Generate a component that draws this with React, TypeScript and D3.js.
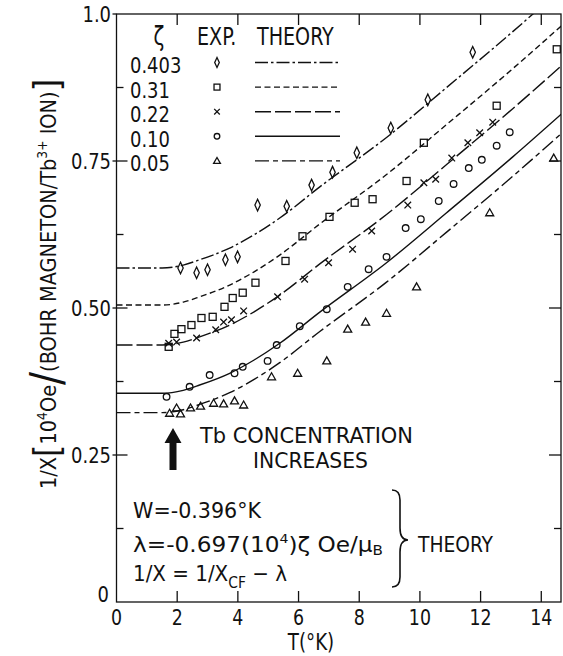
import React from 'react';
import * as d3 from 'd3';

// ---------- data ----------
const tempTicks = [0, 2, 4, 6, 8, 10, 12, 14];
const yTickValues = [0, 0.25, 0.5, 0.75, 1.0];
const yTickLabels = ['0', '0.25', '0.50', '0.75', '1.0'];
const yMinorValues = [0.125, 0.375, 0.625, 0.875];

const zetaLabels = ['0.403', '0.31', '0.22', '0.10', '0.05'];
const markerKinds = ['diamond', 'square', 'cross', 'circle', 'triangle'];
const dashPatterns = ['13,3,2.5,3', '6,3.5', '16,4', '', '14,4,5,4'];

// experimental points (T in K, 1/chi)
const exp403T = [2.11, 2.64, 3.0, 3.59, 3.99, 4.65, 5.61, 6.43, 7.12, 7.92, 9.04, 10.26, 11.74];
const exp403V = [0.568, 0.56, 0.565, 0.582, 0.587, 0.675, 0.673, 0.709, 0.731, 0.764, 0.806, 0.854, 0.935];

const exp31T = [1.72, 1.91, 2.14, 2.47, 2.8, 3.17, 3.56, 3.83, 4.16, 4.58, 5.57, 6.13, 7.02, 7.85, 8.44, 9.56, 10.13, 12.53, 14.51];
const exp31V = [0.434, 0.456, 0.464, 0.471, 0.483, 0.485, 0.502, 0.517, 0.526, 0.543, 0.58, 0.622, 0.655, 0.679, 0.685, 0.716, 0.781, 0.844, 0.94];

const exp22T = [1.72, 1.98, 2.64, 3.27, 3.53, 3.79, 4.19, 5.31, 6.2, 6.99, 7.78, 8.41, 9.6, 10.13, 10.52, 11.05, 11.58, 11.97, 12.4];
const exp22V = [0.44, 0.442, 0.449, 0.463, 0.476, 0.48, 0.495, 0.519, 0.549, 0.577, 0.6, 0.631, 0.675, 0.713, 0.719, 0.755, 0.781, 0.798, 0.816];

const exp10T = [1.65, 2.41, 3.07, 3.89, 4.16, 4.98, 5.28, 6.04, 6.93, 7.62, 8.31, 8.9, 9.53, 10.03, 10.62, 11.11, 11.61, 12.04, 12.53, 12.96];
const exp10V = [0.349, 0.366, 0.386, 0.389, 0.4, 0.41, 0.437, 0.469, 0.498, 0.536, 0.566, 0.587, 0.636, 0.651, 0.682, 0.711, 0.738, 0.752, 0.776, 0.799];

const exp05T = [1.75, 1.98, 2.11, 2.44, 2.77, 3.2, 3.53, 3.89, 4.19, 5.11, 5.97, 6.93, 7.62, 8.21, 8.9, 9.89, 12.3, 14.41];
const exp05V = [0.321, 0.33, 0.32, 0.33, 0.333, 0.338, 0.337, 0.342, 0.335, 0.383, 0.389, 0.41, 0.464, 0.476, 0.491, 0.536, 0.662, 0.755];

// theory curves
const theoryT = [0, 1.5, 2.2, 2.74, 3.73, 4.55, 5.38, 6.7, 8.9, 10.88, 13.06, 14.71];
const theory403 = [0.568, 0.568, 0.573, 0.582, 0.602, 0.625, 0.653, 0.706, 0.79, 0.875, 0.97, 1.045];
const theory31 = [0.505, 0.505, 0.51, 0.519, 0.539, 0.562, 0.59, 0.643, 0.727, 0.812, 0.907, 0.982];
const theory22 = [0.437, 0.437, 0.442, 0.451, 0.471, 0.494, 0.522, 0.575, 0.659, 0.744, 0.839, 0.914];
const theory10 = [0.355, 0.355, 0.36, 0.369, 0.389, 0.412, 0.44, 0.493, 0.577, 0.662, 0.757, 0.832];
const theory05 = [0.322, 0.322, 0.327, 0.336, 0.356, 0.379, 0.407, 0.46, 0.544, 0.629, 0.724, 0.799];

const expT = [exp403T, exp31T, exp22T, exp10T, exp05T];
const expV = [exp403V, exp31V, exp22V, exp10V, exp05V];
const theoryV = [theory403, theory31, theory22, theory10, theory05];

// ---------- layout ----------
const W = 563;
const H = 656;
const FONT = "'DejaVu Sans Condensed','Liberation Sans Narrow','DejaVu Sans',sans-serif";
const X0 = 116.5, X1 = 561, Y0 = 602, Y1 = 14;
const SX = 0.85;

const x = d3.scaleLinear().domain([0, 14.65]).range([X0, X1]);
const y = d3.scaleLinear().domain([0, 1]).range([Y0, Y1]);

function CText({ x: tx, y: ty, sx = SX, children, ...rest }: any) {
  return (
    <text transform={`translate(${tx},${ty}) scale(${sx},1)`} fill="#111" {...rest}>
      {children}
    </text>
  );
}

function Marker({ kind, cx, cy, s = 1 }: { kind: string; cx: number; cy: number; s?: number }) {
  const common = { fill: 'none', stroke: '#111', strokeWidth: 1.3 };
  if (kind === 'diamond') {
    const w = 2.7 * s, h = 5.8 * s;
    return <path d={`M${cx},${cy - h}L${cx + w},${cy}L${cx},${cy + h}L${cx - w},${cy}Z`} {...common} />;
  }
  if (kind === 'square') {
    const a = 3.5 * s;
    return <rect x={cx - a} y={cy - a} width={2 * a} height={2 * a} {...common} />;
  }
  if (kind === 'cross') {
    const a = 3.3 * s;
    return <path d={`M${cx - a},${cy - a}L${cx + a},${cy + a}M${cx + a},${cy - a}L${cx - a},${cy + a}`} {...common} />;
  }
  if (kind === 'circle') {
    return <circle cx={cx} cy={cy} r={3.3 * s} {...common} />;
  }
  const a = 4 * s;
  return <path d={`M${cx},${cy - a}L${cx + a},${cy + a * 0.75}L${cx - a},${cy + a * 0.75}Z`} {...common} />;
}

export default function App() {
  const line = d3
    .line<[number, number]>()
    .x((d) => x(d[0]))
    .y((d) => y(d[1]))
    .curve(d3.curveMonotoneX);

  const legendY0 = 62.5;
  const legendStep = 24.6;

  return (
    <svg
      width={W}
      height={H}
      viewBox={`0 0 ${W} ${H}`}
      style={{ position: 'absolute', left: 0, top: 0, background: '#fff' }}
      fontFamily={FONT}
    >
      <defs>
        <clipPath id="plotclip">
          <rect x={X0} y={Y1} width={X1 - X0} height={Y0 - Y1} />
        </clipPath>
      </defs>
      <rect x={0} y={0} width={W} height={H} fill="#fff" />

      {/* frame */}
      <rect x={X0} y={Y1} width={X1 - X0} height={Y0 - Y1} fill="none" stroke="#111" strokeWidth={1.3} />

      {/* bottom and top ticks */}
      {tempTicks.map((t) => (
        <g key={`xt${t}`}>
          {t > 0 && <line x1={x(t)} x2={x(t)} y1={Y0} y2={Y0 - 11} stroke="#111" strokeWidth={1.3} />}
          {t > 0 && <line x1={x(t)} x2={x(t)} y1={Y1} y2={Y1 + 11} stroke="#111" strokeWidth={1.3} />}
          <CText x={x(t)} y={625} sx={0.92} textAnchor="middle" fontSize={21}>
            {t}
          </CText>
        </g>
      ))}

      {/* left and right ticks */}
      {yTickValues.map((v, i) => (
        <g key={`yt${v}`}>
          {v > 0 && v < 1 && <line x1={X0 - 4} x2={X0 + 11} y1={y(v)} y2={y(v)} stroke="#111" strokeWidth={1.3} />}
          {v > 0 && v < 1 && <line x1={X1 - 12} x2={X1} y1={y(v)} y2={y(v)} stroke="#111" strokeWidth={1.3} />}
          {v === 1 && <line x1={X0 - 4} x2={X0} y1={y(v)} y2={y(v)} stroke="#111" strokeWidth={1.3} />}
          <CText
            x={v === 0 ? 109 : 111}
            y={v === 0 ? y(v) : y(v) + 7.5}
            sx={0.95}
            textAnchor="end"
            fontSize={21}
          >
            {yTickLabels[i]}
          </CText>
        </g>
      ))}
      {yMinorValues.map((v) => (
        <g key={`ym${v}`}>
          <line x1={X0} x2={X0 + 7} y1={y(v)} y2={y(v)} stroke="#111" strokeWidth={1.3} />
          <line x1={X1 - 7} x2={X1} y1={y(v)} y2={y(v)} stroke="#111" strokeWidth={1.3} />
        </g>
      ))}

      {/* axis titles */}
      <CText x={311} y={650} sx={0.88} textAnchor="middle" fontSize={23}>
        T(°K)
      </CText>
      <text
        transform="translate(56,284) rotate(-90)"
        textAnchor="middle"
        fontSize={22}
        fill="#111"
        textLength={410}
        lengthAdjust="spacingAndGlyphs"
      >
        <tspan>1/X</tspan>
        <tspan fontSize={36} dy={3}>[</tspan>
        <tspan dy={-3}>10</tspan>
        <tspan fontSize={14} dy={-9}>4</tspan>
        <tspan dy={9}>Oe</tspan>
        <tspan fontSize={44} dy={6}>/</tspan>
        <tspan dy={-6}>(BOHR MAGNETON/Tb</tspan>
        <tspan fontSize={14} dy={-9}>3+</tspan>
        <tspan dy={9}> ION)</tspan>
        <tspan fontSize={36} dy={3}>]</tspan>
      </text>

      {/* theory curves */}
      <g clipPath="url(#plotclip)">
        {theoryV.map((vals, i) => (
          <path
            key={`th${i}`}
            d={line(theoryT.map((t, j) => [t, vals[j]] as [number, number])) || ''}
            fill="none"
            stroke="#111"
            strokeWidth={1.4}
            strokeDasharray={dashPatterns[i] || undefined}
          />
        ))}
      </g>

      {/* experimental points */}
      <g clipPath="url(#plotclip)">
        {expT.map((ts, i) =>
          ts.map((t, j) => <Marker key={`m${i}-${j}`} kind={markerKinds[i]} cx={x(t)} cy={y(expV[i][j])} />)
        )}
      </g>

      {/* legend */}
      <g>
        <CText x={159} y={45} textAnchor="middle" fontSize={26}>ζ</CText>
        <CText x={197} y={45} fontSize={25}>EXP.</CText>
        <CText x={257} y={45} fontSize={25}>THEORY</CText>
        {zetaLabels.map((lab, i) => {
          const cy = legendY0 + i * legendStep;
          return (
            <g key={`lg${i}`}>
              <CText x={130} y={cy + 10.5} sx={0.95} fontSize={21}>{lab}</CText>
              <Marker kind={markerKinds[i]} cx={217} cy={cy} s={0.85} />
              <line
                x1={255}
                x2={340}
                y1={cy}
                y2={cy}
                stroke="#111"
                strokeWidth={1.4}
                strokeDasharray={dashPatterns[i] || undefined}
              />
            </g>
          );
        })}
      </g>

      {/* concentration arrow */}
      <path d="M169.5,470 L169.5,443 L164.5,443 L173,428 L181.5,443 L176.5,443 L176.5,470 Z" fill="#111" />
      <text x={200} y={443} fontSize={21} fill="#111" textLength={213} lengthAdjust="spacingAndGlyphs">
        Tb CONCENTRATION
      </text>
      <text x={253} y={468} fontSize={21} fill="#111" textLength={115} lengthAdjust="spacingAndGlyphs">
        INCREASES
      </text>

      {/* theory parameters */}
      <g fill="#111" fontSize={21.5}>
        <text x={133} y={518} textLength={128} lengthAdjust="spacingAndGlyphs">W=-0.396°K</text>
        <text x={133} y={552} textLength={250} lengthAdjust="spacingAndGlyphs">
          λ=-0.697(10<tspan fontSize={13} dy={-9}>4</tspan>
          <tspan dy={9}>)ζ   Oe/μ</tspan>
          <tspan fontSize={14} dy={3}>B</tspan>
        </text>
        <text x={133} y={581} textLength={154} lengthAdjust="spacingAndGlyphs">
          1/X = 1/X<tspan fontSize={15} dy={7}>CF</tspan>
          <tspan dy={-7}> − λ</tspan>
        </text>
        <text x={418} y={552} textLength={75} lengthAdjust="spacingAndGlyphs">THEORY</text>
      </g>
      <path
        d="M392,490 Q400,490 400,500 L400,528 Q400,540 408,540 Q400,540 400,552 L400,577 Q400,587 392,587"
        fill="none"
        stroke="#111"
        strokeWidth={1.6}
      />
    </svg>
  );
}
